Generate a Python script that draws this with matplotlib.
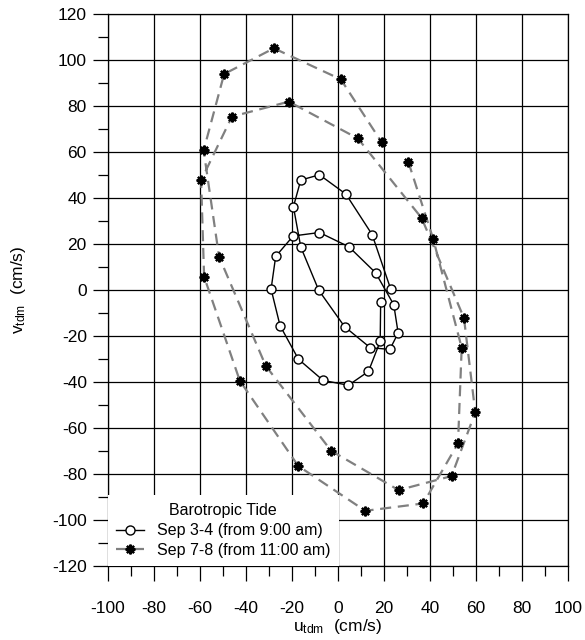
import matplotlib
matplotlib.use("Agg")
import matplotlib.pyplot as plt
from matplotlib.ticker import MultipleLocator

plt.rcParams['font.family'] = ['Liberation Sans', 'DejaVu Sans']
plt.rcParams['mathtext.default'] = 'regular'
plt.rcParams['axes.unicode_minus'] = False

# Sep 3-4, hourly from 9:00 am
sep34_u = [18.6, 18.4, 13.3, 4.6, -6.4, -17.1, -25.1, -29.0, -27.0, -19.4, -8.0, 4.8, 16.4,
           24.3, 26.2, 22.6, 14.1, 2.9, -8.3, -16.1, -19.3, -16.1, -8.0, 3.5, 14.9, 23.0]
sep34_v = [-5.4, -22.3, -35.4, -41.4, -39.3, -30.1, -15.5, 0.4, 14.6, 23.5, 25.0, 18.8, 7.5,
           -6.4, -18.7, -25.8, -25.1, -15.9, -0.1, 18.7, 36.2, 47.8, 50.1, 41.7, 24.1, 0.3]

# Sep 7-8, hourly from 11:00 am
sep78_u = [30.6, 41.4, 53.8, 52.2, 37.1, 11.9, -17.2, -42.6, -58.1, -59.4, -46.0, -21.3, 8.7,
           36.4, 54.8, 59.7, 49.4, 26.4, -2.9, -31.3, -51.6, -58.3, -49.4, -27.8, 1.3, 19.0]
sep78_v = [55.8, 22.3, -25.1, -66.7, -92.8, -96.0, -76.5, -39.4, 5.8, 47.7, 75.4, 81.9, 65.9,
           31.3, -12.2, -53.2, -80.9, -87.0, -69.9, -33.0, 14.5, 60.7, 93.9, 105.1, 91.6, 64.3]

labels = ['Sep 3-4 (from 9:00 am)', 'Sep 7-8 (from 11:00 am)']

fig = plt.figure(figsize=(5.85, 6.4), dpi=100)
ax = fig.add_axes([0.184, 0.1156, 0.787, 0.8625])

ax.plot(sep34_u, sep34_v, color='black', lw=1.0, marker='o', ms=6.5,
        mfc='white', mec='black', mew=1.0, label=labels[0], zorder=4)
ax.plot(sep78_u, sep78_v, color='#808080', lw=1.6, ls=(0, (5, 3)),
        marker=(8, 2, 0), ms=7, mec='black', mew=1.6, label=labels[1], zorder=3)

ax.set_xlim(-100, 100)
ax.set_ylim(-120, 120)
ax.xaxis.set_major_locator(MultipleLocator(20))
ax.yaxis.set_major_locator(MultipleLocator(20))
ax.xaxis.set_minor_locator(MultipleLocator(10))
ax.yaxis.set_minor_locator(MultipleLocator(10))
ax.grid(True, which='major', color='black', lw=0.9)
ax.tick_params(which='major', direction='out', length=11, width=0.9, labelsize=12.5)
ax.tick_params(axis='x', which='major', pad=14)
ax.tick_params(axis='y', which='major', pad=4)
ax.tick_params(which='minor', direction='out', length=7, width=0.9)
for s in ax.spines.values():
    s.set_linewidth(0.9)

ax.set_xlabel(r'u$_{tdm}$  (cm/s)', fontsize=12.5, labelpad=1)
ax.set_ylabel(r'v$_{tdm}$  (cm/s)', fontsize=12.5, labelpad=17)

leg = ax.legend(loc='lower left', bbox_to_anchor=(0, 0), borderaxespad=0,
                title='Barotropic Tide', fontsize=11.5, title_fontsize=11.5,
                frameon=True, fancybox=False, edgecolor='none', facecolor='white',
                framealpha=1, handlelength=1.8, handletextpad=0.8,
                labelspacing=0.3, borderpad=0.5)
leg.set_zorder(5)

fig.savefig('out.png', dpi=100)
